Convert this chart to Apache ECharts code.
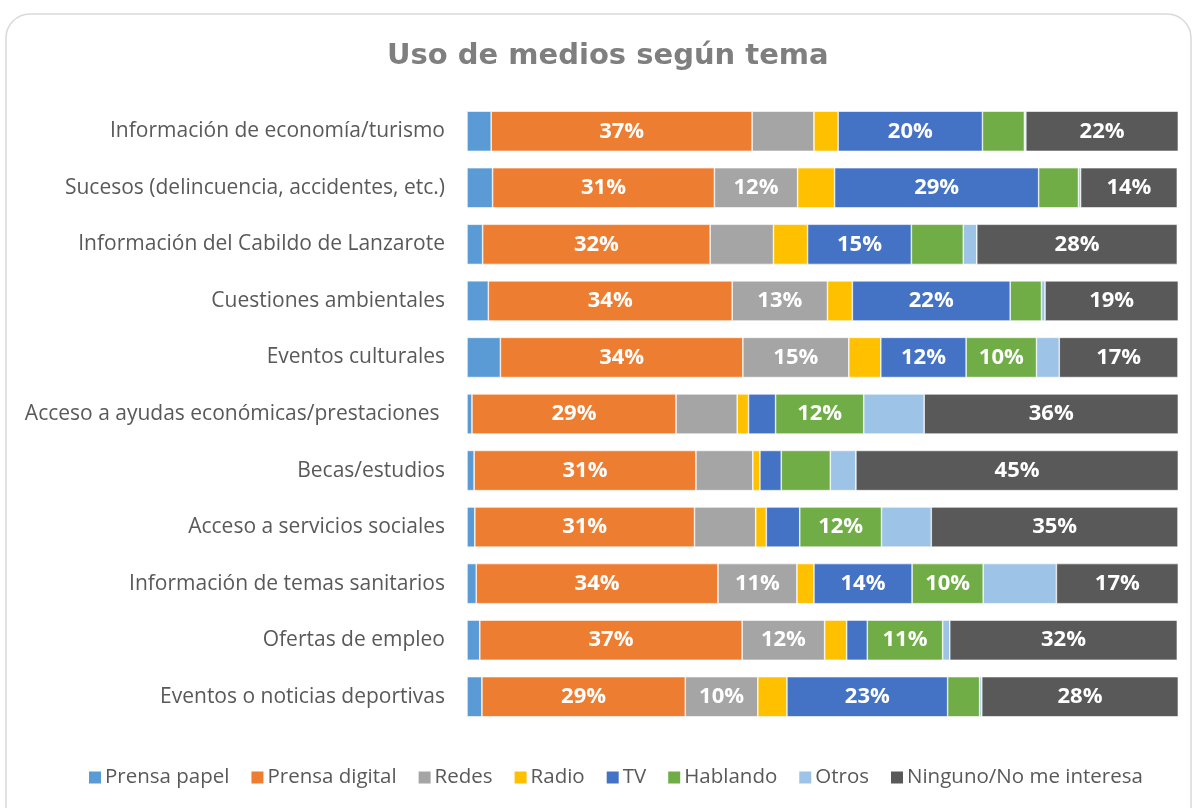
<!DOCTYPE html>
<html>
<head>
<meta charset="utf-8">
<script src="https://cdn.jsdelivr.net/npm/echarts@6/dist/echarts.min.js"></script>
<style>html,body{margin:0;padding:0;background:#fff;}#c{width:1197px;height:808px;}</style>
</head>
<body>
<div id="c"></div>
<script>
const categories = [
  "Información de economía/turismo",
  "Sucesos (delincuencia, accidentes, etc.)",
  "Información del Cabildo de Lanzarote",
  "Cuestiones ambientales",
  "Eventos culturales",
  "Acceso a ayudas económicas/prestaciones ",
  "Becas/estudios",
  "Acceso a servicios sociales",
  "Información de temas sanitarios",
  "Ofertas de empleo",
  "Eventos o noticias deportivas"
];
const seriesNames = ["Prensa papel","Prensa digital","Redes","Radio","TV","Hablando","Otros","Ninguno/No me interesa"];
const prensaPapel   = [3.4, 3.6, 2.2, 3.0, 4.7, 0.7, 1.0, 1.1, 1.3, 1.8, 2.1];
const prensaDigital = [36.7, 31.2, 32.0, 34.3, 34.1, 28.7, 31.2, 30.9, 34.0, 36.9, 28.6];
const redes         = [8.7, 11.7, 8.9, 13.4, 14.9, 8.6, 8.0, 8.6, 11.1, 11.6, 10.2];
const radio         = [3.4, 5.2, 4.8, 3.5, 4.5, 1.6, 1.0, 1.5, 2.4, 3.1, 4.1];
const tv            = [20.3, 28.7, 14.6, 22.2, 12.0, 3.8, 3.0, 4.7, 13.8, 2.9, 22.6];
const hablando      = [5.9, 5.6, 7.3, 4.4, 9.9, 12.4, 6.9, 11.5, 10.0, 10.6, 4.5];
const otros         = [0.2, 0.3, 1.9, 0.5, 3.2, 8.5, 3.6, 7.0, 10.3, 1.0, 0.3];
const ninguno       = [21.5, 13.6, 28.2, 18.8, 16.7, 35.8, 45.4, 34.7, 17.2, 32.0, 27.7];
const seriesData = [prensaPapel, prensaDigital, redes, radio, tv, hablando, otros, ninguno];
const colors = ["#5B9BD5","#ED7D31","#A5A5A5","#FFC000","#4472C4","#70AD47","#9DC3E6","#595959"];

const chart = echarts.init(document.getElementById('c'));
const series = seriesNames.map((name, i) => ({
  name: name,
  type: 'bar',
  stack: 'total',
  barWidth: '71%',
  data: seriesData[i],
  itemStyle: { color: colors[i], borderColor: '#ffffff', borderWidth: 0.6 },
  label: {
    show: name !== 'Otros',
    position: 'inside',
    color: '#ffffff',
    fontFamily: 'Open Sans',
    fontWeight: 'bold',
    fontSize: 22,
    formatter: p => p.value >= 9.5 ? Math.round(p.value) + '%' : ''
  },
  emphasis: { disabled: true }
}));

chart.setOption({
  animation: false,
  backgroundColor: '#ffffff',
  color: colors,
  graphic: [{
    type: 'rect',
    shape: { x: 6, y: 14, width: 1185, height: 830, r: 24 },
    style: { fill: 'none', stroke: '#d9d9d9', lineWidth: 1.5 },
    z: -1
  }],
  title: {
    text: 'Uso de medios según tema',
    left: 382,
    top: 37,
    textStyle: { fontFamily: 'DejaVu Sans', fontWeight: 'bold', fontSize: 29, color: '#7f7f7f' }
  },
  legend: {
    bottom: 15,
    left: 82,
    itemWidth: 14,
    itemHeight: 14,
    itemGap: 20,
    icon: 'rect',
    textStyle: { fontFamily: 'Open Sans', fontSize: 20.5, color: '#595959', padding: [0, 0, 0, -2] },
    data: seriesNames
  },
  grid: { left: 467, right: 19, top: 103, height: 622, containLabel: false },
  xAxis: {
    type: 'value', min: 0, max: 100, show: false
  },
  yAxis: {
    type: 'category',
    data: categories,
    inverse: true,
    axisLine: { show: false },
    axisTick: { show: false },
    axisLabel: { fontFamily: 'Open Sans', fontSize: 21, color: '#595959', margin: 22 }
  },
  series: series
});
</script>
</body>
</html>
